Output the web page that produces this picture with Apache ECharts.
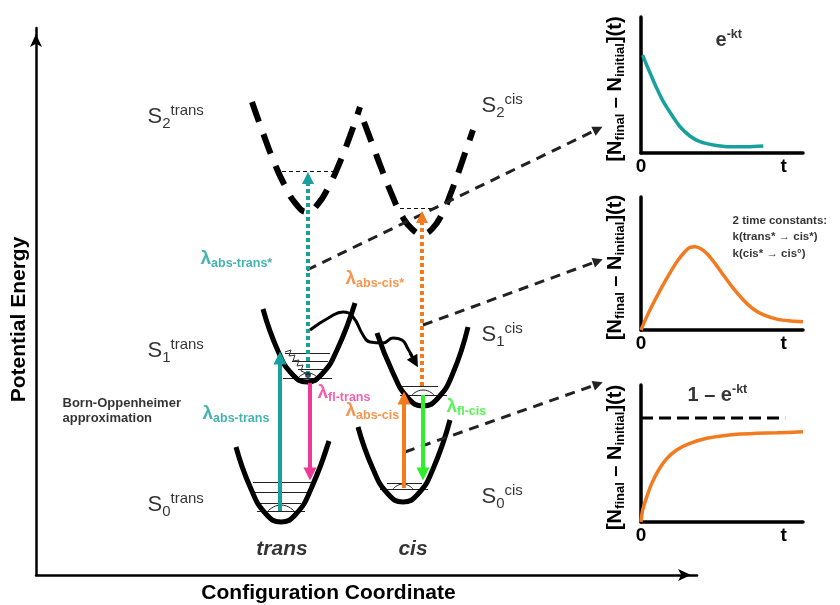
<!DOCTYPE html>
<html>
<head>
<meta charset="utf-8">
<script src="https://cdn.jsdelivr.net/npm/echarts@6/dist/echarts.min.js"></script>
<style>
  html, body { margin: 0; padding: 0; background: #fff; }
  #c { width: 840px; height: 605px; }
</style>
</head>
<body>
<div id="c"></div>
<script>
// ---------- Energy-level diagram data: [configuration coordinate, potential energy] ----------
const S0_TRANS = [[200,128],[215,86],[230,61],[245,53],[260,61],[275,86],[293,134]];
const S1_TRANS = [[227,266],[242,224],[256,201],[271,193],[286,201],[301,225],[319,272]];
const S2_TRANS = [[216,473],[227,442],[238,413],[249,389],[260,371],[271,363],[282,371],[293,389],[304,413],[314,439],[324,468]];
const S0_CIS = [[322,148],[337,106],[352,81],[367,73],[382,81],[397,106],[414,155]];
const S1_CIS = [[341,242],[357,202],[372,177],[387,169],[402,177],[417,202],[432,248]];
const S2_CIS = [[328,453],[337,429],[346,405],[356,380],[366,359],[376,346],[386,341],[396,346],[406,361],[416,385],[426,413],[437,445]];

// vibrational levels: [coordinate from, coordinate to, energy]
const LEVELS = [
  [217,277,93],[218,271,83],[224,265,72],[221,269,64],
  [249,294,222],[256,292,214],[262,287,206],[247,296,197],
  [362,402,189],[364,411,180],
  [351,386,92],[344,392,86]
];
const S2_LEVELS = [[239,299,404],[364,401,367]];
// ground-state wavefunction bumps
const HUMPS = [
  [[232,64],[245,70],[258,64]],
  [[262,197],[272,202],[282,197]],
  [[376,180],[387,185],[398,180]],
  [[357,86],[367,91],[377,86]]
];
// vibrational relaxation squiggle in S1 trans
const RELAX = [[249,223],[255,225],[253,219],[259,220],[257,214],[263,215],[261,209],[267,210],[265,204],[270,202]];
// trans* -> cis* isomerisation path
const TWIST = [[274,245],[294,258],[307,263],[317,258],[327,240],[334,233],[347,232],[357,237],[366,235],[372,226],[376,219]];
const TWIST_HEAD = [[374,222],[379,213]];

// optical transitions: [from, to]
const ABS_TRANS = [[244,64],[244,217]];
const FL_TRANS = [[274,192],[274,101]];
const ABS_CIS = [[368,87],[368,177]];
const FL_CIS = [[387,180],[387,101]];
const ABS_TRANS_STAR = [[272,200],[272,397]];
const ABS_CIS_STAR = [[386,189],[386,358]];

// links from each probe to its kinetic trace
const LINKS = [
  [[271,305],[562,446]],
  [[387,250],[562,314]],
  [[369,123],[562,191]]
];

// ---------- Kinetic traces: [time, signal] ----------
const DECAY = [[0.1,0.72],[0.35,0.647],[0.66,0.561],[0.97,0.476],[1.38,0.377],[1.9,0.279],[2.41,0.193],[3.02,0.125],[3.64,0.083],[4.46,0.059],[5.49,0.046],[6.52,0.046],[7.55,0.051]];
const RISE_FALL = [[0,0],[0.45,0.125],[0.97,0.25],[1.6,0.39],[2.22,0.514],[2.72,0.59],[3.02,0.622],[3.33,0.626],[3.64,0.614],[4.06,0.576],[4.57,0.501],[5.08,0.414],[5.7,0.313],[6.32,0.226],[6.95,0.156],[7.57,0.113],[8.44,0.08],[9.26,0.068],[10,0.062]];
const RISE = [[0,0],[0.1,0.085],[0.35,0.182],[0.66,0.28],[1.07,0.376],[1.59,0.462],[2.2,0.526],[3.02,0.574],[4.06,0.611],[5.08,0.63],[6.11,0.642],[7.14,0.647],[8.38,0.651],[10,0.658]];
const PLATEAU = [[0,0.76],[8.9,0.76]];
const TIME_TICKS = [0, 8.8];
const TIME_TICK_TEXT = ['0', 't'];

// ---------- Text ----------
const STATES = [['2','trans'],['1','trans'],['0','trans'],['2','cis'],['1','cis'],['0','cis']];
const LAMBDAS = ['abs-trans*','abs-cis*','abs-trans','fl-trans','abs-cis','fl-cis'];

const FONT = "'Liberation Sans', Arial, Helvetica, sans-serif";
const TEAL = '#17a09c', PINK = '#ee3a97', ORANGE = '#f47a20', GREEN = '#2def2d';
const LAMBDA_COLORS = [TEAL, ORANGE, TEAL, PINK, ORANGE, GREEN];

const chart = echarts.init(document.getElementById('c'), null, { renderer: 'canvas' });

const bare = { axisTick: { show: false }, axisLabel: { show: false }, splitLine: { show: false } };
const grids = [
  { left: 36, top: 28, width: 661, height: 547 },
  { left: 641, top: 17, width: 162, height: 136 },
  { left: 641, top: 197, width: 162, height: 133 },
  { left: 641, top: 385, width: 162, height: 137 }
].map(g => Object.assign({ containLabel: false, outerBoundsMode: 'none' }, g));

const mainLine = { show: true, symbol: ['none', 'arrow'], symbolSize: [9, 13], symbolOffset: [0, -6],
  lineStyle: { color: '#000', width: 2.5 } };

const traceRich = {
  m: { fontSize: 20, fontWeight: 'bold', fontFamily: FONT, color: '#000' },
  s: { fontSize: 13, fontWeight: 'bold', fontFamily: FONT, color: '#000', padding: [10, 0, 0, 0] }
};

const insetX = i => ({
  type: 'value', gridIndex: i, min: 0, max: 10,
  axisLine: { show: true, onZero: false, lineStyle: { color: '#000', width: 3.5 } },
  axisTick: { show: false }, splitLine: { show: false },
  axisLabel: { show: true, customValues: TIME_TICKS, margin: 4,
    formatter: v => TIME_TICK_TEXT[TIME_TICKS.indexOf(v)] || '',
    fontSize: 19, fontWeight: 'bold', fontFamily: FONT, color: '#000' }
});
const insetY = i => Object.assign({
  type: 'value', gridIndex: i, min: 0, max: 1,
  axisLine: { show: true, onZero: false, lineStyle: { color: '#000', width: 3.5 } },
  name: '{m|[N}{s|final}{m| – N}{s|initial}{m|](t)}',
  nameLocation: 'middle', nameGap: 14,
  nameTextStyle: { rich: traceRich, padding: [0, 8, 0, 0] }
}, bare);

const well = (data, dashed) => ({
  type: 'line', xAxisIndex: 0, yAxisIndex: 0, data, smooth: 0.5, showSymbol: false, silent: true, z: 3,
  lineStyle: { color: '#000', width: dashed ? 6 : 5, type: dashed ? [21, 13] : 'solid', cap: 'butt' }
});
const arrow = (coords, color, width, type, head, z) => ({
  type: 'lines', coordinateSystem: 'cartesian2d', xAxisIndex: 0, yAxisIndex: 0, silent: true, z: z || 6,
  data: [{ coords }], symbol: ['none', 'triangle'], symbolSize: head,
  lineStyle: { color, width, type, opacity: 1, curveness: 0, cap: 'butt' }
});
const trace = (i, data, color) => ({
  type: 'line', xAxisIndex: i, yAxisIndex: i, data, smooth: 0.3, showSymbol: false, silent: true,
  lineStyle: { color, width: 3.5 }
});
const note = (xi, pos, formatter, label) => ({
  type: 'scatter', xAxisIndex: xi, yAxisIndex: xi, symbolSize: 1, silent: true, z: 10,
  itemStyle: { color: 'rgba(0,0,0,0)' },
  label: Object.assign({ show: true, position: 'right', distance: 0, formatter, fontFamily: FONT, color: '#000' }, label),
  data: [pos]
});

// text anchors in diagram units (left edge, vertical centre)
const STATE_AT = [[111,458],[111,224],[111,70],[445,469],[445,240],[445,78]];
const LAMBDA_AT = [[164,316],[309,296],[166,161],[281,182],[309,164],[410,168]];

const stateRich = {
  S: { fontSize: 22, fontFamily: FONT, color: '#000' },
  n: { fontSize: 15, fontFamily: FONT, color: '#000', padding: [13, 0, 0, 0] },
  p: { fontSize: 15, fontFamily: FONT, color: '#000', padding: [0, 0, 12, 0] }
};

const series = [
  well(S0_TRANS), well(S1_TRANS), well(S2_TRANS, true),
  well(S0_CIS), well(S1_CIS), well(S2_CIS, true),
  {
    type: 'lines', coordinateSystem: 'cartesian2d', xAxisIndex: 0, yAxisIndex: 0, silent: true, z: 2,
    data: LEVELS.map(([a, b, e]) => ({ coords: [[a, e], [b, e]] })),
    lineStyle: { color: '#222', width: 1, opacity: 1, curveness: 0 }
  },
  {
    type: 'lines', coordinateSystem: 'cartesian2d', xAxisIndex: 0, yAxisIndex: 0, silent: true, z: 2,
    data: S2_LEVELS.map(([a, b, e]) => ({ coords: [[a, e], [b, e]] })),
    lineStyle: { color: '#111', width: 1.2, type: [4, 3], opacity: 1, curveness: 0 }
  },
  ...HUMPS.map(h => ({
    type: 'line', xAxisIndex: 0, yAxisIndex: 0, data: h, smooth: 0.6, showSymbol: false, silent: true, z: 2,
    lineStyle: { color: '#222', width: 1 }
  })),
  {
    type: 'line', xAxisIndex: 0, yAxisIndex: 0, data: RELAX, showSymbol: false, silent: true, z: 2,
    lineStyle: { color: '#333', width: 1 }
  },
  {
    type: 'line', xAxisIndex: 0, yAxisIndex: 0, data: TWIST, smooth: 0.5, showSymbol: false, silent: true, z: 4,
    lineStyle: { color: '#000', width: 3 }
  },
  arrow(TWIST_HEAD, '#000', 3, 'solid', [10, 12], 4),
  ...LINKS.map(c => arrow(c, '#222', 3, [10, 7], [8, 10], 5)),
  arrow(ABS_TRANS_STAR, TEAL, 4, [4, 3], [11, 12]),
  arrow(ABS_CIS_STAR, ORANGE, 4, [4, 3], [11, 12]),
  arrow(ABS_TRANS, TEAL, 4, 'solid', [11, 13]),
  arrow(FL_TRANS, PINK, 4, 'solid', [11, 13]),
  arrow(ABS_CIS, ORANGE, 4, 'solid', [11, 13]),
  arrow(FL_CIS, GREEN, 4, 'solid', [11, 13]),
  {
    type: 'scatter', xAxisIndex: 0, yAxisIndex: 0, silent: true, z: 7, symbolSize: 6,
    itemStyle: { color: '#123' }, data: [ABS_TRANS_STAR[0]]
  },
  {
    type: 'scatter', xAxisIndex: 0, yAxisIndex: 0, symbolSize: 1, silent: true, z: 10,
    itemStyle: { color: 'rgba(0,0,0,0)' },
    label: { show: true, position: 'right', distance: 0, rich: stateRich },
    data: STATES.map(([n, p], i) => ({ value: STATE_AT[i], label: { formatter: () => `{S|S}{n|${n}}{p|${p}}` } }))
  },
  {
    type: 'scatter', xAxisIndex: 0, yAxisIndex: 0, symbolSize: 1, silent: true, z: 10,
    itemStyle: { color: 'rgba(0,0,0,0)' },
    label: { show: true, position: 'right', distance: 0,
      rich: {
        l: { fontSize: 19, fontWeight: 'bold', fontFamily: FONT },
        s: { fontSize: 12.5, fontWeight: 'bold', fontFamily: FONT, padding: [9, 0, 0, 0] }
      } },
    data: LAMBDAS.map((t, i) => ({ value: LAMBDA_AT[i],
      label: { color: LAMBDA_COLORS[i], formatter: () => `{l|λ}{s|${t}}` } }))
  },
  note(0, [26, 164.5], () => 'Born-Oppenheimer\napproximation',
    { fontSize: 13, fontWeight: 'bold', lineHeight: 15 }),
  note(0, [246, 26], () => 'trans', { position: 'inside', fontSize: 21, fontWeight: 'bold', fontStyle: 'italic' }),
  note(0, [377, 26], () => 'cis', { position: 'inside', fontSize: 21, fontWeight: 'bold', fontStyle: 'italic' }),

  trace(1, DECAY, TEAL),
  trace(2, RISE_FALL, ORANGE),
  trace(3, RISE, ORANGE),
  {
    type: 'line', xAxisIndex: 3, yAxisIndex: 3, data: PLATEAU, showSymbol: false, silent: true,
    lineStyle: { color: '#000', width: 3, type: [12, 6] }
  },
  note(1, [4.57, 0.83], () => '{e|e}{p|-kt}', { rich: {
    e: { fontSize: 20, fontWeight: 'bold', fontFamily: FONT, color: '#000' },
    p: { fontSize: 12.5, fontWeight: 'bold', fontFamily: FONT, color: '#000', padding: [0, 0, 12, 0] } } }),
  note(2, [5.62, 0.70], () => '2 time constants:\nk(trans* → cis*)\nk(cis* → cis°)',
    { fontSize: 11.5, fontWeight: 'bold', lineHeight: 16.5 }),
  note(3, [2.84, 0.92], () => '{e|1 – e}{p|-kt}', { rich: {
    e: { fontSize: 20, fontWeight: 'bold', fontFamily: FONT, color: '#000' },
    p: { fontSize: 12.5, fontWeight: 'bold', fontFamily: FONT, color: '#000', padding: [0, 0, 12, 0] } } })
];

chart.setOption({
  animation: false,
  backgroundColor: '#fff',
  grid: grids,
  xAxis: [
    Object.assign({
      type: 'value', gridIndex: 0, min: 0, max: 661, axisLine: mainLine,
      name: 'Configuration Coordinate', nameLocation: 'middle', nameGap: 8,
      nameTextStyle: { fontSize: 21, fontWeight: 'bold', fontFamily: FONT, color: '#000', padding: [0, 76, 0, 0] }
    }, bare),
    insetX(1), insetX(2), insetX(3)
  ],
  yAxis: [
    Object.assign({
      type: 'value', gridIndex: 0, min: 0, max: 547, axisLine: mainLine,
      name: 'Potential Energy', nameLocation: 'middle', nameGap: 6,
      nameTextStyle: { fontSize: 21, fontWeight: 'bold', fontFamily: FONT, color: '#000', padding: [0, 36, 0, 0] }
    }, bare),
    insetY(1), insetY(2), insetY(3)
  ],
  series
});
</script>
</body>
</html>
